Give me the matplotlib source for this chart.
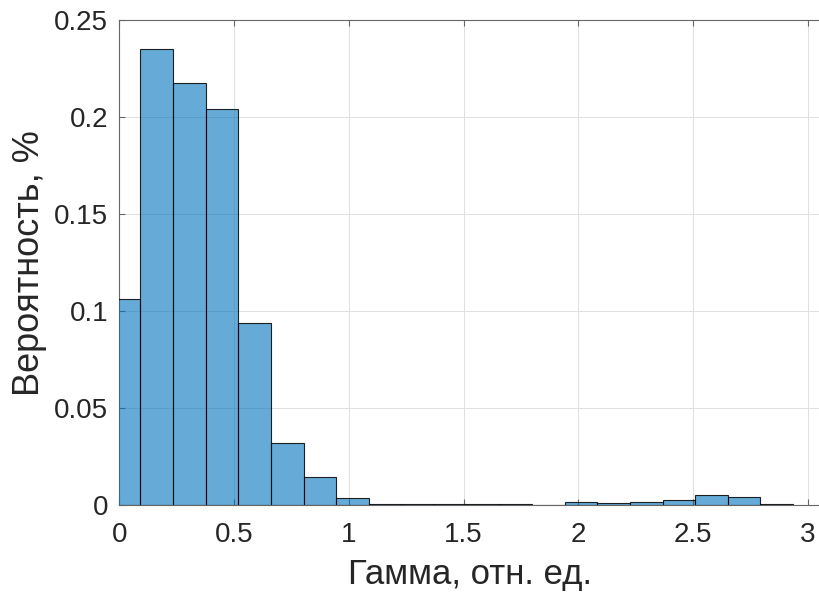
import numpy as np
import matplotlib
matplotlib.use('Agg')
import matplotlib.pyplot as plt

# histogram bins (edges) and probabilities
bin_edges = [-0.051, 0.092, 0.234, 0.376, 0.518, 0.660, 0.803, 0.945, 1.087,
             1.229, 1.371, 1.514, 1.656, 1.798, 1.940, 2.082, 2.225, 2.367,
             2.509, 2.651, 2.793, 2.936]
probs = [0.1065, 0.2351, 0.2178, 0.2044, 0.0941, 0.0320, 0.0144, 0.0040,
         0.0008, 0.0008, 0.0008, 0.0008, 0.0008, 0.0003, 0.0015, 0.0013,
         0.0015, 0.0027, 0.0052, 0.0044, 0.0008]
x_ticks = [0, 0.5, 1, 1.5, 2, 2.5, 3]
x_labels = ['0', '0.5', '1', '1.5', '2', '2.5', '3']
y_ticks = [0, 0.05, 0.1, 0.15, 0.2, 0.25]
y_labels = ['0', '0.05', '0.1', '0.15', '0.2', '0.25']

plt.rcParams['font.family'] = ['Liberation Sans', 'DejaVu Sans']

fig = plt.figure(figsize=(8.19, 5.94), dpi=100)
ax = fig.add_axes([0.1457, 0.1493, 0.8555, 0.817])

edges = np.array(bin_edges)
ax.bar(edges[:-1], probs, width=np.diff(edges), align='edge',
       facecolor=(0, 0.447, 0.741, 0.6), edgecolor=(0, 0, 0, 0.85),
       linewidth=0.8, zorder=3)

ax.set_xlim(0, 3.053)
ax.set_ylim(0, 0.25)
ax.set_xticks(x_ticks)
ax.set_xticklabels(x_labels)
ax.set_yticks(y_ticks)
ax.set_yticklabels(y_labels)

ax.grid(True, color='#e0e0e0', linewidth=0.7, zorder=0)
ax.set_axisbelow(True)
for s in ax.spines.values():
    s.set_color('#666666')
    s.set_linewidth(0.8)
ax.spines['right'].set_visible(False)
ax.tick_params(direction='in', length=4, width=0.8, color='#666666',
               labelsize=20, labelcolor='#262626')
ax.tick_params(axis='x', pad=12, top=True)
ax.tick_params(axis='y', pad=8)

ax.set_xlabel('Гамма, отн. ед.', fontsize=25, color='#262626', labelpad=7)
ax.set_ylabel('Вероятность, %', fontsize=26, color='#262626', labelpad=5)

fig.savefig('out.png', dpi=100)
